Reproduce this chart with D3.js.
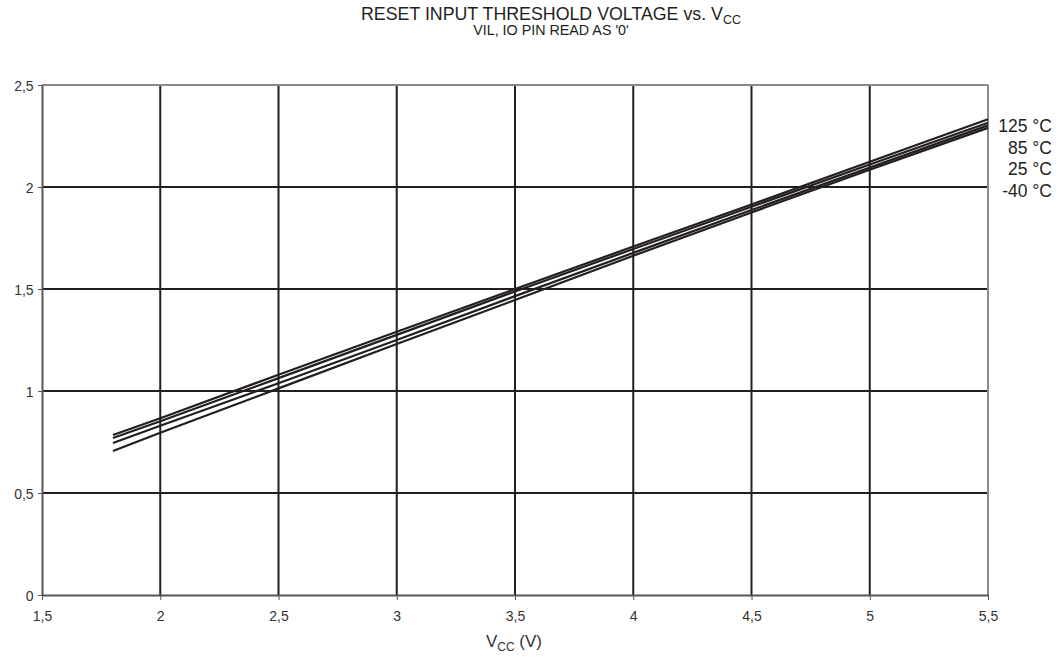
<!DOCTYPE html>
<html><head><meta charset="utf-8">
<script src="https://cdn.jsdelivr.net/npm/d3@7"></script>
<style>body{margin:0;background:#fff}svg{display:block}text{font-family:"Liberation Sans",Arial,sans-serif}</style>
</head><body><svg id="c" width="1064" height="660"></svg>
<script>
const vcc = [1.8, 2, 2.5, 3, 3.5, 4, 4.5, 5, 5.5];
const t125 = [0.784, 0.866, 1.080, 1.290, 1.500, 1.708, 1.914, 2.124, 2.332];
const t85  = [0.770, 0.852, 1.063, 1.275, 1.488, 1.696, 1.903, 2.110, 2.315];
const t25  = [0.745, 0.830, 1.038, 1.250, 1.465, 1.677, 1.887, 2.095, 2.302];
const tm40 = [0.706, 0.795, 1.013, 1.230, 1.446, 1.663, 1.875, 2.085, 2.290];
const seriesNames = ["125 °C", "85 °C", "25 °C", "-40 °C"];
const xTicks = [1.5, 2, 2.5, 3, 3.5, 4, 4.5, 5, 5.5];
const yTicks = [0, 0.5, 1, 1.5, 2, 2.5];

const svg = d3.select("#c");
const L = 42, R = 988, T = 85, B = 595;
const x = d3.scaleLinear().domain([1.5, 5.5]).range([L, R]);
const y = d3.scaleLinear().domain([0, 2.5]).range([B, T]);
const fmt = d => String(d).replace(".", ",");

// grid
svg.append("g").selectAll("line").data(xTicks.slice(1, -1)).join("line")
  .attr("x1", d => x(d)).attr("x2", d => x(d)).attr("y1", T).attr("y2", B)
  .attr("stroke", "#231f20").attr("stroke-width", 2);
svg.append("g").selectAll("line").data(yTicks.slice(1, -1)).join("line")
  .attr("x1", L).attr("x2", R).attr("y1", d => y(d)).attr("y2", d => y(d))
  .attr("stroke", "#231f20").attr("stroke-width", 2);
// top/right border grey
svg.append("line").attr("x1", L).attr("x2", R).attr("y1", y(2.5)).attr("y2", y(2.5)).attr("stroke", "#8a8a8a").attr("stroke-width", 2);
svg.append("line").attr("x1", x(5.5)).attr("x2", x(5.5)).attr("y1", T).attr("y2", B).attr("stroke", "#8a8a8a").attr("stroke-width", 2);

// axes
const xa = svg.append("g").attr("transform", `translate(0,${B})`)
  .call(d3.axisBottom(x).tickValues(xTicks).tickFormat(fmt).tickSizeInner(5).tickSizeOuter(0));
const ya = svg.append("g").attr("transform", `translate(${L},0)`)
  .call(d3.axisLeft(y).tickValues(yTicks).tickFormat(fmt).tickSizeInner(4).tickSizeOuter(0));
[xa, ya].forEach(a => {
  a.select(".domain").attr("stroke", "#555").attr("stroke-width", 2);
  a.selectAll(".tick line").attr("stroke", "#555");
  a.selectAll(".tick text").attr("fill", "#333").style("font-size", "14px");
});
xa.selectAll(".tick text").attr("dy", "1.29em");
ya.selectAll(".tick text").attr("dx", "-0.1em").attr("dy", "0.38em");

// lines
const all = [t125, t85, t25, tm40];
const line = d3.line().x((d, i) => x(vcc[i])).y(d => y(d));
svg.append("g").selectAll("path").data(all).join("path")
  .attr("d", line).attr("fill", "none").attr("stroke", "#231f20").attr("stroke-width", 2.2);

// labels
svg.append("g").selectAll("text").data(seriesNames).join("text")
  .attr("x", 1052).attr("y", (d, i) => 132 + i * 21.7).attr("text-anchor", "end")
  .attr("fill", "#231f20").style("font-size", "17.5px").text(d => d);

// titles
const t1 = svg.append("text").attr("x", 551).attr("y", 20).attr("text-anchor", "middle")
  .attr("fill", "#231f20").style("font-size", "17.8px");
t1.append("tspan").text("RESET INPUT THRESHOLD VOLTAGE vs. V");
t1.append("tspan").attr("dy", 4).style("font-size", "12.5px").text("CC");
svg.append("text").attr("x", 551).attr("y", 35).attr("text-anchor", "middle")
  .attr("fill", "#231f20").style("font-size", "14.3px").text("VIL, IO PIN READ AS '0'");
const xl = svg.append("text").attr("x", 514).attr("y", 647).attr("text-anchor", "middle")
  .attr("fill", "#333").style("font-size", "17px");
xl.append("tspan").text("V");
xl.append("tspan").attr("dy", 4).style("font-size", "12px").text("CC");
xl.append("tspan").attr("dy", -4).text(" (V)");
</script></body></html>
